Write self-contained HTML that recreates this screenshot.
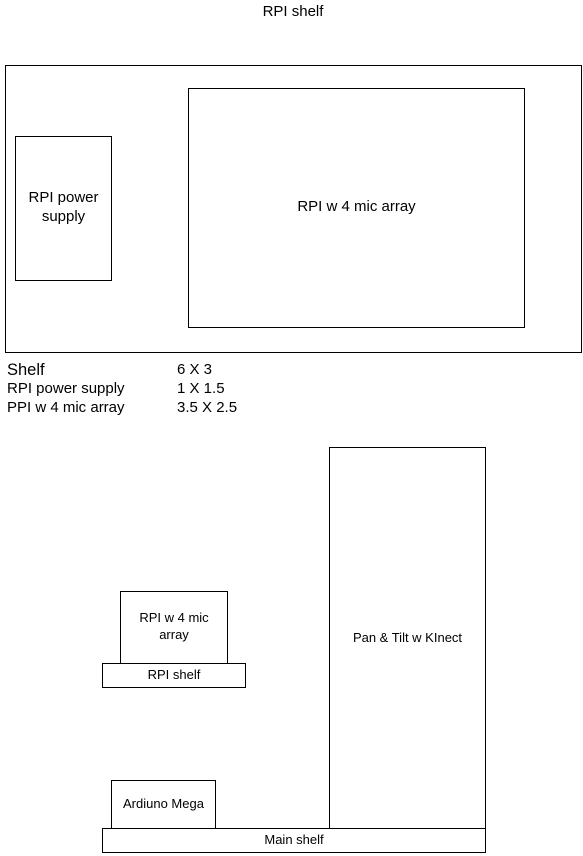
<!DOCTYPE html>
<html><head><style>
body{margin:0;width:583px;height:856px;background:#fff;position:relative;font-family:"Liberation Sans",Arial,sans-serif;color:#000;overflow:hidden}
.b{position:absolute;border:1px solid #000;box-sizing:border-box;display:flex;align-items:center;justify-content:center;text-align:center;background:#fff}
.t{position:absolute;white-space:nowrap}
</style></head><body>
<div class="t" style="left:0;width:586px;text-align:center;top:3px;font-size:15px">RPI shelf</div>
<div class="b" style="left:5px;top:65px;width:577px;height:288px"></div>
<div class="b" style="left:15px;top:136px;width:97px;height:145px;font-size:15px;line-height:19px;padding-bottom:3px">RPI power<br>supply</div>
<div class="b" style="left:188px;top:88px;width:337px;height:240px;font-size:15px;padding-bottom:3px">RPI w 4 mic array</div>
<div class="t" style="left:7px;top:361px;font-size:16.5px">Shelf</div>
<div class="t" style="left:177px;top:361px;font-size:15px">6 X 3</div>
<div class="t" style="left:7px;top:380px;font-size:15px">RPI power supply</div>
<div class="t" style="left:177px;top:380px;font-size:15px">1 X 1.5</div>
<div class="t" style="left:7px;top:399px;font-size:15px">PPI w 4 mic array</div>
<div class="t" style="left:177px;top:399px;font-size:15px">3.5 X 2.5</div>
<div class="b" style="left:329px;top:447px;width:157px;height:382px;font-size:13px;padding-bottom:2px">Pan &amp; Tilt w KInect</div>
<div class="b" style="left:120px;top:591px;width:108px;height:73px;font-size:13px;line-height:17px;align-items:flex-start;padding-top:17px">RPI w 4 mic<br>array</div>
<div class="b" style="left:102px;top:663px;width:144px;height:25px;font-size:13px;padding-bottom:2px">RPI shelf</div>
<div class="b" style="left:111px;top:780px;width:105px;height:49px;font-size:13px;padding-bottom:2px">Ardiuno Mega</div>
<div class="b" style="left:102px;top:828px;width:384px;height:25px;font-size:13px;padding-bottom:2px">Main shelf</div>
</body></html>
